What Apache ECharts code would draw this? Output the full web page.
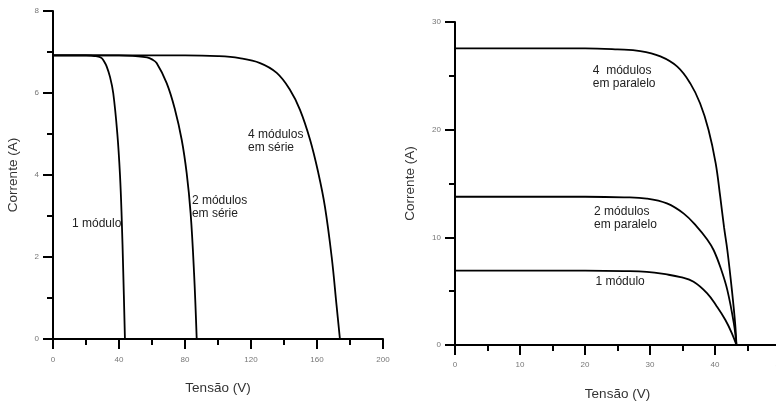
<!DOCTYPE html>
<html>
<head>
<meta charset="utf-8">
<style>
  html, body { margin: 0; padding: 0; background: #fff; }
  #chart { width: 776px; height: 402px; }
</style>
<script src="https://cdn.jsdelivr.net/npm/echarts@6/dist/echarts.min.js"></script>
</head>
<body>
<div id="chart"></div>
<script>
// curvas I-V: [tensão V, corrente A]
const serieUm = [[0, 6.92], [20, 6.92], [25, 6.9], [27.5, 6.89], [29.5, 6.85], [31, 6.77], [32.5, 6.65], [34.5, 6.4], [36.5, 6.0], [39, 5.0], [40.6, 4.0], [41.6, 3.0], [42.6, 1.6], [43.6, 0]]
const serieDois = [[0, 6.92], [40, 6.92], [50, 6.9], [57, 6.87], [60, 6.82], [62.8, 6.73], [68.9, 6.24], [73.9, 5.6], [78, 4.86], [81, 4.05], [83.4, 3.07], [85.5, 1.6], [87.1, 0]]
const serieQuatro = [[0, 6.92], [80, 6.92], [100, 6.9], [113, 6.85], [125.5, 6.73], [135.6, 6.49], [143.6, 6.08], [149.7, 5.59], [155.8, 4.86], [160.8, 4.05], [164.8, 3.23], [168.9, 2.0], [171.9, 0.8], [173.9, 0]]

const paraleloUm = [[0, 6.9], [20, 6.9], [26, 6.87], [29.5, 6.8], [32.6, 6.55], [34.7, 6.3], [36.7, 5.88], [38.8, 4.8], [40.3, 3.56], [41.6, 2.32], [42.6, 1.09], [43.3, 0]]
const paraleloDois = [[0, 13.77], [20, 13.77], [26, 13.72], [29.5, 13.6], [32.6, 13.15], [35.2, 12.2], [37.2, 11], [38.8, 9.8], [39.8, 8.8], [40.9, 7.1], [41.9, 5.1], [42.9, 2.0], [43.3, 0]]
const paraleloQuatro = [[0, 27.55], [20, 27.55], [25, 27.45], [28.5, 27.3], [31.6, 26.8], [34.2, 25.85], [36.2, 24.3], [37.7, 22.45], [39, 20], [40.1, 16.9], [40.8, 13.8], [41.4, 10.9], [41.9, 8.8], [42.6, 5.1], [43.1, 2.0], [43.3, 0]]

// textos junto das curvas: [V, A]
const notasEsq = [['1 módulo', [11.5, 2.81]], ['2 módulos\nem série', [84.2, 3.21]], ['4 módulos\nem série', [118.2, 4.82]]]
const notasDir = [['1 módulo', [21.6, 5.85]], ['2 módulos\nem paralelo', [21.4, 11.75]], ['4  módulos\nem paralelo', [21.2, 24.9]]]

const fonte = 'Liberation Sans, Arial, sans-serif'

function eixo(gridIndex, max, interval, extra)
{
  return Object.assign({
    gridIndex: gridIndex,
    type: 'value',
    min: 0,
    max: max,
    interval: interval,
    axisLine: { show: true, onZero: false, lineStyle: { color: '#000', width: 2 } },
    axisTick: { show: true, inside: false, length: 10, lineStyle: { color: '#000', width: 2 } },
    minorTick: { show: true, splitNumber: 2, length: 6, lineStyle: { color: '#000', width: 2 } },
    splitLine: { show: false },
    axisLabel: { color: '#777', fontSize: 8, fontFamily: fonte },
    nameLocation: 'middle',
    nameTextStyle: { color: '#333', fontSize: 13.5, fontFamily: fonte }
  }, extra)
}

function notas(lista)
{
  return {
    symbol: 'circle',
    symbolSize: 0,
    silent: true,
    data: lista.map(n => ({
      coord: n[1],
      label: {
        show: true,
        position: 'right',
        distance: 0,
        formatter: n[0],
        color: '#222',
        fontSize: 12,
        lineHeight: 13,
        fontFamily: fonte
      }
    }))
  }
}

function curva(dados, xi, mp)
{
  const s = {
    type: 'line',
    xAxisIndex: xi,
    yAxisIndex: xi,
    data: dados,
    smooth: 0.4,
    showSymbol: false,
    animation: false,
    lineStyle: { color: '#000', width: 1.8 }
  }
  if (mp)
    s.markPoint = mp
  return s
}

const chart = echarts.init(document.getElementById('chart'))
chart.setOption({
  animation: false,
  backgroundColor: '#fff',
  grid: [
    { left: 53, top: 11, width: 330, height: 328, outerBoundsMode: 'none', containLabel: false },
    { left: 455, top: 22, width: 325, height: 323, outerBoundsMode: 'none', containLabel: false }
  ],
  xAxis: [
    eixo(0, 200, 40, { name: 'Tensão (V)', nameGap: 42, axisLabel: { color: '#777', fontSize: 8, fontFamily: fonte, margin: 17 } }),
    eixo(1, 50, 10, { name: 'Tensão (V)', nameGap: 42, axisLabel: { color: '#777', fontSize: 8, fontFamily: fonte, margin: 16 } })
  ],
  yAxis: [
    eixo(0, 8, 2, { name: 'Corrente (A)', nameGap: 33, axisLabel: { color: '#777', fontSize: 8, fontFamily: fonte, margin: 14 } }),
    eixo(1, 30, 10, { name: 'Corrente (A)', nameGap: 38, axisLabel: { color: '#777', fontSize: 8, fontFamily: fonte, margin: 14 } })
  ],
  series: [
    curva(serieUm, 0, notas(notasEsq)),
    curva(serieDois, 0),
    curva(serieQuatro, 0),
    curva(paraleloUm, 1, notas(notasDir)),
    curva(paraleloDois, 1),
    curva(paraleloQuatro, 1)
  ]
})
</script>
</body>
</html>
